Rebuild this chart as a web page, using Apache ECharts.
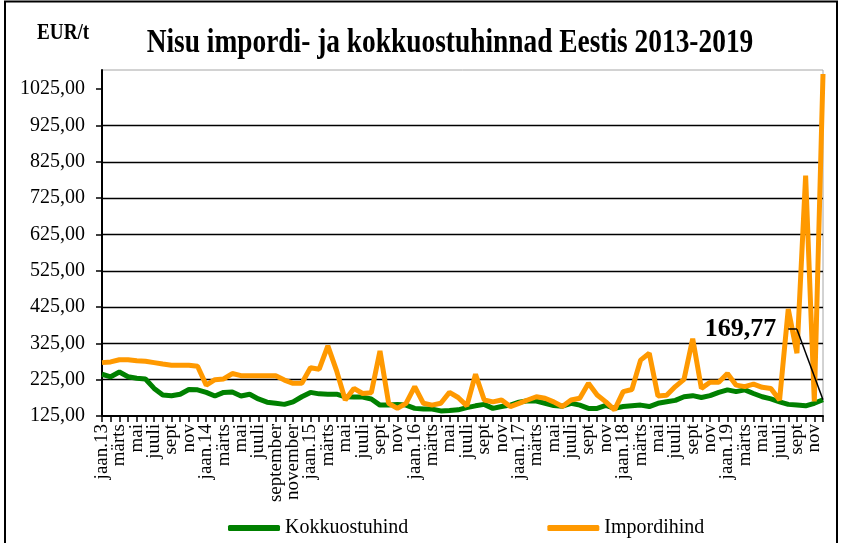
<!DOCTYPE html>
<html>
<head>
<meta charset="utf-8">
<title>Nisu impordi- ja kokkuostuhinnad Eestis 2013-2019</title>
<script src="https://cdn.jsdelivr.net/npm/echarts@6/dist/echarts.min.js"></script>
<style>
html, body { margin: 0; padding: 0; background: #fff; }
#chart { width: 844px; height: 543px; }
</style>
</head>
<body>
<div id="chart"></div>
<script>
// months jaan.13 ... dets.19, only every second one is labelled on the axis
var categories = [
    'jaan.13', 'veebr', 'märts', 'apr', 'mai', 'juuni', 'juuli', 'aug', 'sept', 'okt', 'nov', 'dets',
    'jaan.14', 'veebr', 'märts', 'apr', 'mai', 'juuni', 'juuli', 'aug', 'september', 'oktoober', 'november', 'detsember',
    'jaan.15', 'veebr', 'märts', 'apr', 'mai', 'juuni', 'juuli', 'aug', 'sept', 'okt', 'nov', 'dets',
    'jaan.16', 'veebr', 'märts', 'apr', 'mai', 'juuni', 'juuli', 'aug', 'sept', 'okt', 'nov', 'dets',
    'jaan.17', 'veebr', 'märts', 'apr', 'mai', 'juuni', 'juuli', 'aug', 'sept', 'okt', 'nov', 'dets',
    'jaan.18', 'veebr', 'märts', 'apr', 'mai', 'juuni', 'juuli', 'aug', 'sept', 'okt', 'nov', 'dets',
    'jaan.19', 'veebr', 'märts', 'apr', 'mai', 'juuni', 'juuli', 'aug', 'sept', 'okt', 'nov', 'dets'
];

// EUR/t
var kokkuostuhind = [
    240, 233, 246, 233, 229, 227, 201, 183, 181, 185, 198, 197,
    190, 180, 190, 191, 180, 185, 172, 163, 160, 157, 164, 178,
    190, 186, 185, 185, 178, 177, 177, 172, 155, 155, 157, 155,
    146, 144, 144, 139, 140, 142, 148, 153, 157, 146, 151, 155,
    163, 167, 166, 160, 154, 152, 160, 155, 146, 146, 154, 146,
    151, 153, 155, 151, 160, 164, 168, 178, 181, 176, 181, 190,
    197, 192, 197, 187, 178, 172, 164, 157, 155, 153, 160, 169.77
];

var impordihind = [
    272, 274, 280, 280, 277, 276, 272, 268, 265, 265, 265, 262,
    210, 225, 227, 242, 236, 236, 236, 236, 236, 224, 215, 215,
    258, 254, 318, 250, 169, 201, 187, 189, 304, 160, 146, 160,
    206, 160, 155, 160, 190, 176, 153, 240, 169, 164, 169, 151,
    160, 169, 178, 174, 164, 151, 169, 174, 215, 183, 164, 142,
    192, 198, 279, 298, 180, 182, 206, 226, 338, 201, 218, 218,
    242, 210, 206, 213, 204, 201, 169, 420, 298, 787, 165, 1067
];

var yTicks = [125, 225, 325, 425, 525, 625, 725, 825, 925, 1025];

var serif = '"Liberation Serif", "Times New Roman", serif';

function euro(v) {
    return v.toFixed(2).replace('.', ',');
}

var chartDom = document.getElementById('chart');
var myChart = echarts.init(chartDom, null, { renderer: 'canvas' });

var lastIndex = kokkuostuhind.length - 1;
var lastValue = kokkuostuhind[lastIndex];
// where the call-out label for the last purchase price sits
var calloutLevel = 364;
var calloutCorner = lastIndex - 3;
var calloutEnd = lastIndex - 4;

var option = {
    animation: false,
    backgroundColor: '#fff',
    graphic: [
        {
            type: 'rect',
            silent: true,
            z: -10,
            shape: { x: 5, y: 1.5, width: 832, height: 570 },
            style: { fill: 'none', stroke: '#000', lineWidth: 2 }
        },
        {
            type: 'text',
            silent: true,
            x: 450,
            y: 43,
            scaleX: 0.83,
            style: {
                text: 'Nisu impordi- ja kokkuostuhinnad Eestis 2013-2019',
                fontFamily: serif,
                fontSize: 33,
                fontWeight: 'bold',
                fill: '#000',
                align: 'center',
                verticalAlign: 'middle',
                textAlign: 'center',
                textVerticalAlign: 'middle'
            }
        },
        {
            type: 'text',
            silent: true,
            x: 37,
            y: 33,
            scaleX: 0.8,
            style: {
                text: 'EUR/t',
                fontFamily: serif,
                fontSize: 24,
                fontWeight: 'bold',
                fill: '#000',
                align: 'left',
                verticalAlign: 'middle',
                textAlign: 'left',
                textVerticalAlign: 'middle'
            }
        }
    ],
    legend: {
        left: 223,
        top: 513,
        itemWidth: 52,
        itemHeight: 6,
        itemGap: 139,
        icon: 'roundRect',
        textStyle: { fontFamily: serif, fontSize: 20, color: '#000' },
        data: ['Kokkuostuhind', 'Impordihind']
    },
    grid: {
        left: 102,
        right: 21,
        top: 70,
        bottom: 127,
        show: true,
        borderColor: '#a6a6a6',
        borderWidth: 1,
        outerBoundsMode: 'none'
    },
    xAxis: {
        type: 'category',
        data: categories,
        boundaryGap: false,
        axisLine: { onZero: false, lineStyle: { color: '#000', width: 2 } },
        axisTick: { show: true, interval: 0, length: 6, lineStyle: { color: '#000', width: 1.5 } },
        axisLabel: {
            interval: 0,
            rotate: 90,
            margin: 8,
            showMinLabel: true,
            showMaxLabel: false,
            hideOverlap: false,
            fontFamily: serif,
            fontSize: 19,
            color: '#000',
            // every second month is written on the axis
            formatter: function (value, index) {
                return index % 2 === 0 ? value : '';
            }
        },
        splitLine: { show: false }
    },
    yAxis: {
        type: 'value',
        min: 125,
        max: 1078,
        axisLine: { show: true, lineStyle: { color: '#000', width: 2 } },
        axisTick: {
            show: true,
            length: 6,
            customValues: yTicks,
            lineStyle: { color: '#000', width: 1.5 }
        },
        axisLabel: {
            customValues: yTicks,
            margin: 17,
            fontFamily: serif,
            fontSize: 20,
            color: '#000',
            formatter: euro
        },
        splitLine: {
            show: true,
            showMinLine: false,
            showMaxLine: false,
            lineStyle: { color: '#000', width: 1.3 }
        }
    },
    series: [
        {
            name: 'Kokkuostuhind',
            type: 'line',
            data: kokkuostuhind,
            showSymbol: false,
            lineStyle: { color: '#008000', width: 5 },
            itemStyle: { color: '#008000' },
            markLine: {
                silent: true,
                symbol: ['none', 'none'],
                label: { show: false },
                lineStyle: { color: '#000', width: 1.5, type: 'solid' },
                data: [
                    [{ coord: [lastIndex, lastValue] }, { coord: [calloutCorner, calloutLevel] }],
                    [{ coord: [calloutCorner, calloutLevel] }, { coord: [calloutEnd, calloutLevel] }]
                ]
            },
            markPoint: {
                silent: true,
                symbol: 'circle',
                symbolSize: 0,
                itemStyle: { color: 'rgba(0,0,0,0)' },
                label: {
                    show: true,
                    position: 'left',
                    distance: 12,
                    formatter: euro(lastValue),
                    fontFamily: serif,
                    fontSize: 26,
                    fontWeight: 'bold',
                    color: '#000'
                },
                data: [{ coord: [calloutEnd, calloutLevel] }]
            }
        },
        {
            name: 'Impordihind',
            type: 'line',
            data: impordihind,
            showSymbol: false,
            lineStyle: { color: '#ff9900', width: 5 },
            itemStyle: { color: '#ff9900' }
        }
    ]
};

myChart.setOption(option);
</script>
</body>
</html>
